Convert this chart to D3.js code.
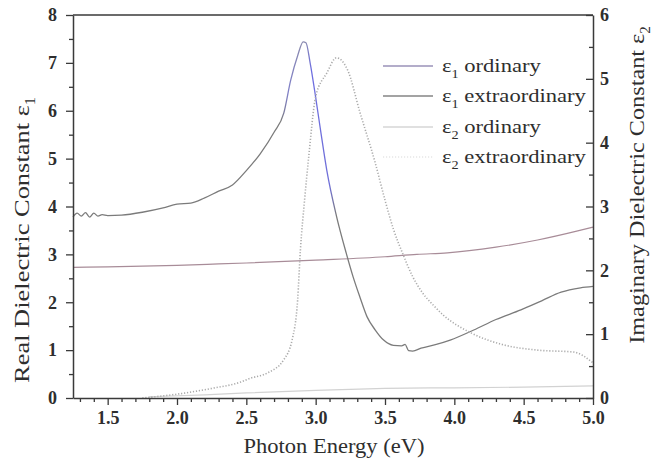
<!DOCTYPE html>
<html><head><meta charset="utf-8">
<script src="https://cdn.jsdelivr.net/npm/d3@7/dist/d3.min.js"></script>
<style>
html,body{margin:0;padding:0;background:#fff;}
svg{display:block;font-family:"Liberation Serif","Times New Roman",serif;}
</style></head>
<body>
<svg id="chart" width="652" height="471"></svg>
<script>
// ---- data ----
const e1OrdE = [1.25, 1.5, 2.0, 2.3, 2.5, 3.0, 3.5, 3.73, 3.95, 4.3, 4.6, 4.89, 5.0];
const e1OrdV = [2.73, 2.74, 2.77, 2.8, 2.82, 2.88, 2.95, 3.0, 3.03, 3.15, 3.3, 3.49, 3.57];

const e1ExtE = [1.25, 1.28, 1.31, 1.34, 1.37, 1.40, 1.43, 1.46, 1.5, 1.6, 1.75, 1.9, 2.0, 2.1, 2.2, 2.3, 2.4, 2.5, 2.6, 2.7, 2.77, 2.82, 2.87, 2.91, 2.93, 2.96, 3.0, 3.04, 3.08, 3.15, 3.22, 3.27, 3.32, 3.37, 3.43, 3.49, 3.56, 3.62, 3.645, 3.67, 3.7, 3.76, 3.87, 3.97, 4.14, 4.3, 4.48, 4.63, 4.77, 4.91, 5.0];
const e1ExtV = [3.78, 3.86, 3.80, 3.87, 3.78, 3.86, 3.80, 3.83, 3.81, 3.82, 3.88, 3.97, 4.05, 4.07, 4.18, 4.32, 4.45, 4.75, 5.1, 5.55, 5.95, 6.64, 7.15, 7.44, 7.42, 7.0, 6.28, 5.5, 4.76, 3.8, 3.03, 2.53, 2.1, 1.7, 1.42, 1.21, 1.1, 1.09, 1.12, 0.99, 0.98, 1.04, 1.12, 1.21, 1.42, 1.64, 1.84, 2.03, 2.21, 2.3, 2.33];

const e2OrdE = [1.8, 2.2, 2.5, 3.0, 3.5, 4.0, 4.5, 5.0];
const e2OrdV = [0.02, 0.05, 0.08, 0.12, 0.15, 0.16, 0.17, 0.19];

const e2ExtE = [1.75, 2.0, 2.25, 2.46, 2.53, 2.65, 2.77, 2.83, 2.87, 2.89, 2.92, 2.95, 3.0, 3.08, 3.15, 3.23, 3.32, 3.43, 3.5, 3.56, 3.63, 3.7, 3.77, 3.85, 3.92, 4.12, 4.36, 4.6, 4.86, 5.0];
const e2ExtV = [0.0, 0.06, 0.15, 0.25, 0.31, 0.39, 0.6, 0.91, 1.54, 2.32, 3.1, 3.78, 4.72, 5.09, 5.33, 5.14, 4.47, 3.68, 3.1, 2.65, 2.25, 1.9, 1.65, 1.45, 1.3, 1.02, 0.83, 0.75, 0.72, 0.55];

const xMajorTicks = [1.5, 2.0, 2.5, 3.0, 3.5, 4.0, 4.5, 5.0];
const yLeftTicks = [0, 1, 2, 3, 4, 5, 6, 7, 8];
const yRightTicks = [0, 1, 2, 3, 4, 5, 6];
const legendLabels = [["ε", "1", " ordinary"], ["ε", "1", " extraordinary"], ["ε", "2", " ordinary"], ["ε", "2", " extraordinary"]];

// ---- layout ----
const svg = d3.select("#chart");
const L = 73, R = 593, T = 15, B = 398;
const x = d3.scaleLinear().domain([1.25, 5.0]).range([L, R]);
const yL = d3.scaleLinear().domain([0, 8]).range([B, T]);
const yR = d3.scaleLinear().domain([0, 6]).range([B, T]);

const axisColor = "#3a3a3a";
const textColor = "#2e2e2e";

// gradient for the blue-tinted part of the extraordinary curve
const defs = svg.append("defs");
const grad = defs.append("linearGradient").attr("id", "e1grad")
  .attr("gradientUnits", "userSpaceOnUse")
  .attr("x1", x(2.75)).attr("x2", x(3.2)).attr("y1", 0).attr("y2", 0);
const g0 = (3.2 - 2.75);
[[2.75, "#7b7b7b"], [2.8, "#8080c8"], [2.89, "#8a8ab0"], [2.93, "#8a8ab0"], [2.97, "#6e6ee0"], [3.1, "#7070d8"], [3.15, "#7b7b7b"], [3.2, "#7b7b7b"]]
  .forEach(([e, c]) => grad.append("stop").attr("offset", (e - 2.75) / g0).attr("stop-color", c));

// ---- curves ----
function pts(E, V) { return E.map((e, i) => [e, V[i]]); }
const lineL = d3.line().x(d => x(d[0])).y(d => yL(d[1])).curve(d3.curveMonotoneX);
const lineR = d3.line().x(d => x(d[0])).y(d => yR(d[1])).curve(d3.curveMonotoneX);

const series = [
  { d: pts(e1OrdE, e1OrdV), line: lineL, stroke: "#a88c98", w: 1.2, dash: null, leg: "#9a92b8" },
  { d: pts(e1ExtE, e1ExtV), line: lineL, stroke: "url(#e1grad)", w: 1.3, dash: null, leg: "#858585" },
  { d: pts(e2OrdE, e2OrdV), line: lineR, stroke: "#d2d2d2", w: 1.2, dash: null, leg: "#d6d6d6" },
  { d: pts(e2ExtE, e2ExtV), line: lineR, stroke: "#ababab", w: 1.6, dash: "1.2,1.8", leg: "#e6e6e6" }
];
series.forEach(s => {
  svg.append("path").datum(s.d).attr("d", s.line)
    .attr("fill", "none").attr("stroke", s.stroke).attr("stroke-width", s.w)
    .attr("stroke-dasharray", s.dash);
});

// ---- axes ----
function styleAxis(g) {
  g.selectAll("path.domain").attr("stroke", axisColor).attr("stroke-width", 1.5);
  g.selectAll(".tick line").attr("stroke", axisColor).attr("stroke-width", 1.3);
  g.selectAll(".tick text").attr("fill", textColor).attr("font-size", 18).attr("font-weight", "bold")
    .attr("font-family", "'Liberation Serif','Times New Roman',serif");
}
const minorX = d3.range(13, 50).map(v => v / 10).filter(v => Math.abs(v * 2 - Math.round(v * 2)) > 1e-6);
svg.append("g").attr("transform", `translate(0,${B})`)
  .call(d3.axisBottom(x).tickValues(minorX).tickSize(4).tickFormat(""))
  .call(g => g.select("path.domain").remove())
  .call(styleAxis);
svg.append("g").attr("transform", `translate(0,${B})`)
  .call(d3.axisBottom(x).tickValues(xMajorTicks).tickSize(7).tickSizeOuter(0).tickPadding(6).tickFormat(d3.format(".1f")))
  .call(styleAxis);

svg.append("g").attr("transform", `translate(${L},0)`)
  .call(d3.axisLeft(yL).tickValues(d3.range(0.5, 8, 1)).tickSize(4).tickFormat(""))
  .call(g => g.select("path.domain").remove())
  .call(styleAxis);
svg.append("g").attr("transform", `translate(${L},0)`)
  .call(d3.axisLeft(yL).tickValues(yLeftTicks).tickSize(7).tickSizeOuter(0).tickPadding(9).tickFormat(d3.format("d")))
  .call(styleAxis);

svg.append("g").attr("transform", `translate(${R},0)`)
  .call(d3.axisRight(yR).tickValues(d3.range(0.5, 6, 1)).tickSize(-4).tickFormat(""))
  .call(g => g.select("path.domain").remove())
  .call(styleAxis);
svg.append("g").attr("transform", `translate(${R},0)`)
  .call(d3.axisRight(yR).tickValues(yRightTicks).tickSize(-7).tickSizeOuter(0).tickPadding(7).tickFormat(d3.format("d")))
  .call(styleAxis);

// top frame line
svg.append("line").attr("x1", L).attr("x2", R).attr("y1", T).attr("y2", T)
  .attr("stroke", axisColor).attr("stroke-width", 1.5);

// ---- titles ----
function stretchedText(parts, cx, cy, rot, size, target, anchor) {
  const g = svg.append("g").attr("transform", `translate(${cx},${cy}) rotate(${rot})`);
  const inner = g.append("g");
  const t = inner.append("text").attr("font-size", size).attr("fill", textColor)
    .attr("text-anchor", anchor);
  parts.forEach(p => {
    const ts = t.append("tspan").text(p.t);
    if (p.sub) ts.attr("font-size", size * 0.62).attr("dy", size * 0.28);
    if (p.back) ts.attr("dy", -size * 0.28);
  });
  const w = t.node().getComputedTextLength();
  inner.attr("transform", `scale(${target / w},1)`);
  return g;
}
stretchedText([{ t: "Photon Energy (eV)" }], 334, 453, 0, 21, 181, "middle");
stretchedText([{ t: "Real Dielectric Constant ε" }, { t: "1", sub: true }], 29, 240, -90, 22, 286, "middle");
stretchedText([{ t: "Imaginary Dielectric Constant ε" }, { t: "2", sub: true }], 644, 185, -90, 22, 318, "middle");

// ---- legend ----
const legY = [66, 96, 127, 157];
let legScale = null;
legendLabels.forEach((lab, i) => {
  svg.append("line").attr("x1", 383).attr("x2", 433).attr("y1", legY[i]).attr("y2", legY[i])
    .attr("stroke", series[i].leg).attr("stroke-width", 1.3)
    .attr("stroke-dasharray", i === 3 ? "1.2,1.8" : null);
  const g = svg.append("g").attr("transform", `translate(442,${legY[i] + 6})`);
  const t = g.append("text").attr("font-size", 19).attr("fill", textColor);
  t.append("tspan").text(lab[0]);
  t.append("tspan").text(lab[1]).attr("font-size", 12).attr("dy", 6);
  t.append("tspan").text(lab[2]).attr("dy", -6);
  if (legScale === null && i === 1) {}
  g.attr("data-w", t.node().getComputedTextLength());
});
// scale legend texts uniformly so that "ε1 extraordinary" spans ~144 px
const legGroups = svg.selectAll("g[data-w]");
const wExt = +legGroups.filter((d, i) => i === 1).attr("data-w");
legScale = 144 / wExt;
legGroups.each(function () {
  const tr = d3.select(this).attr("transform");
  d3.select(this).attr("transform", tr + ` scale(${legScale},1)`);
});
</script>
</body></html>
